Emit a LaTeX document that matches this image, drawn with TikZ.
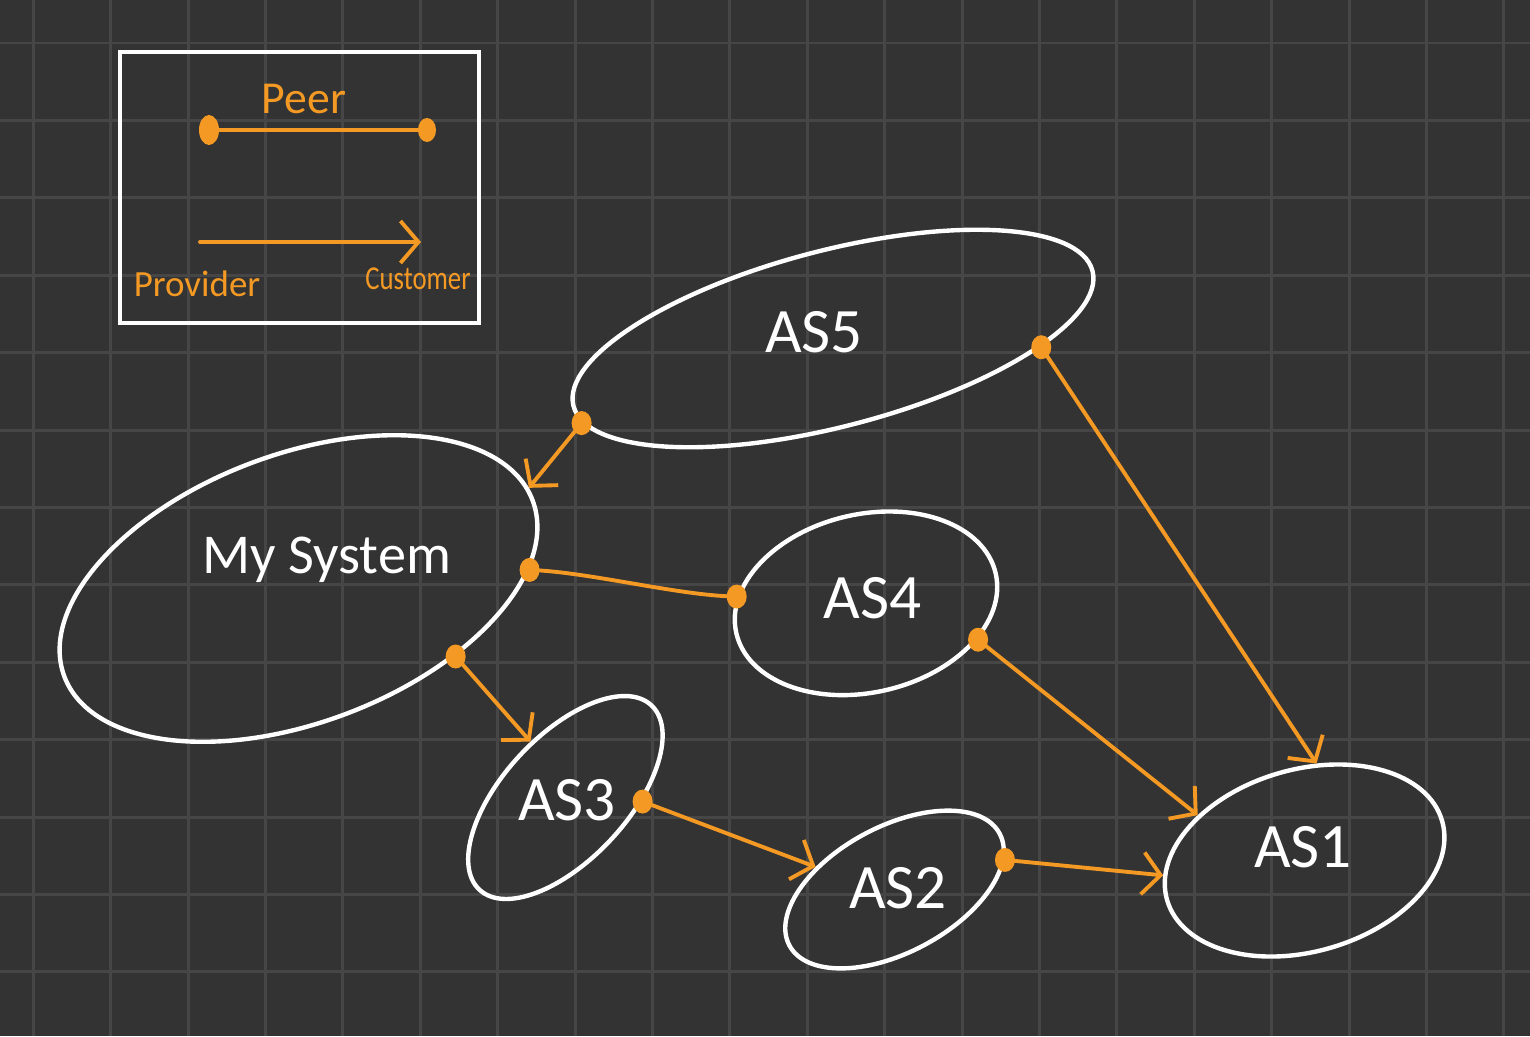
\documentclass[tikz,border=0pt]{standalone}
\usepackage{fontspec}
\setmainfont{Carlito}
\usepackage{tikz}
\usetikzlibrary{shapes.geometric,arrows.meta}
\definecolor{bgdark}{RGB}{51,51,51}
\definecolor{gridgray}{RGB}{70,70,70}
\definecolor{linkorange}{RGB}{244,154,36}

\begin{document}
\begin{tikzpicture}[x=0.01cm,y=-0.01cm,
    asnode/.style={draw=white,line width=1.25pt,ellipse,inner sep=0pt},
    aslabel/.style={text=white,anchor=base,font=\fontsize{18}{20}\selectfont},
    link/.style={linkorange,line width=1.1pt,line cap=round,-{Straight Barb[length=1.8mm,width=4.2mm]}},
    peerlink/.style={linkorange,line width=1.1pt,line cap=round},
    legendtext/.style={text=linkorange,anchor=base,font=\fontsize{10.5}{12}\selectfont}]

% Background and grid
\fill[bgdark] (0,0) rectangle (1530,1036);
\useasboundingbox (0,0) rectangle (1530,1036);
\foreach \k in {0,...,19} {
    \draw[gridgray,line width=0.85pt] ({33.3+77.4*\k},0) -- ({33.3+77.4*\k},1036);
}
\foreach \k in {0,...,12} {
    \draw[gridgray,line width=0.85pt] (0,{43+77.4*\k}) -- (1530,{43+77.4*\k});
}

% Legend box
\draw[white,line width=1.15pt] (120,52) rectangle (479,323);
\coordinate (peerL) at (209,130);
\coordinate (peerR) at (427,130);
\draw[peerlink] (peerL) -- (peerR);
\fill[linkorange] (peerL) ellipse [x radius=1mm,y radius=1.5mm];
\fill[linkorange] (peerR) ellipse [x radius=0.9mm,y radius=1.2mm];
\node[legendtext,font=\fontsize{13}{15}\selectfont] (peer) at (304,113) {Peer};
\coordinate (provA) at (200,242);
\coordinate (custA) at (421,242);
\draw[link] (provA) -- (custA);
\node[legendtext] (provider) at (197,296) {Provider};
\node[legendtext,font=\fontsize{9.5}{11}\selectfont] (customer) at (418,289) {\scalebox{0.8}[1]{Customer}};

% AS ellipses
\node[asnode,minimum width=5.36cm,minimum height=1.76cm,rotate=14.6] (as5) at (833,338.5) {};
\node[asnode,minimum width=5cm,minimum height=2.68cm,rotate=20.6] (mysys) at (298.5,588.5) {};
\node[asnode,minimum width=2.66cm,minimum height=1.78cm,rotate=13] (as4) at (866,603.3) {};
\node[asnode,minimum width=2.52cm,minimum height=1.24cm,rotate=47] (as3) at (565.4,797.5) {};
\node[asnode,minimum width=2.38cm,minimum height=1.26cm,rotate=28] (as2) at (894.5,889.5) {};
\node[asnode,minimum width=2.86cm,minimum height=1.82cm,rotate=16] (as1) at (1304.6,860.5) {};

% Labels
\node[aslabel] (as5label) at (814,352) {AS5};
\node[aslabel,font=\fontsize{16}{18}\selectfont] (mysyslabel) at (326.5,573) {My System};
\node[aslabel] (as4label) at (872.5,618) {AS4};
\node[aslabel] (as3label) at (567,820) {AS3};
\node[aslabel] (as2label) at (898,908) {AS2};
\node[aslabel] (as1label) at (1303,867) {AS1};

% Links: provider -> customer, and the peer link
\draw[link] (as5.184) -- (mysys.3);
\draw[link] (as5.343) -- (as1.67);
\draw[peerlink] (mysys.344) .. controls (590,572) and (680,596) .. (as4.164);
\draw[link] (mysys.316) -- (as3.75);
\draw[link] (as4.329) -- (as1.141);
\draw[link] (as3.310) -- (as2.136);
\draw[link] (as2.347) -- (as1.170);

% Dots at link ends
\foreach \p in {as5.184,as5.343,mysys.344,mysys.316,as4.164,as4.329,as3.310,as2.347} {
    \fill[linkorange] (\p) ellipse [x radius=1mm,y radius=1.2mm];
}

\end{tikzpicture}
\end{document}
